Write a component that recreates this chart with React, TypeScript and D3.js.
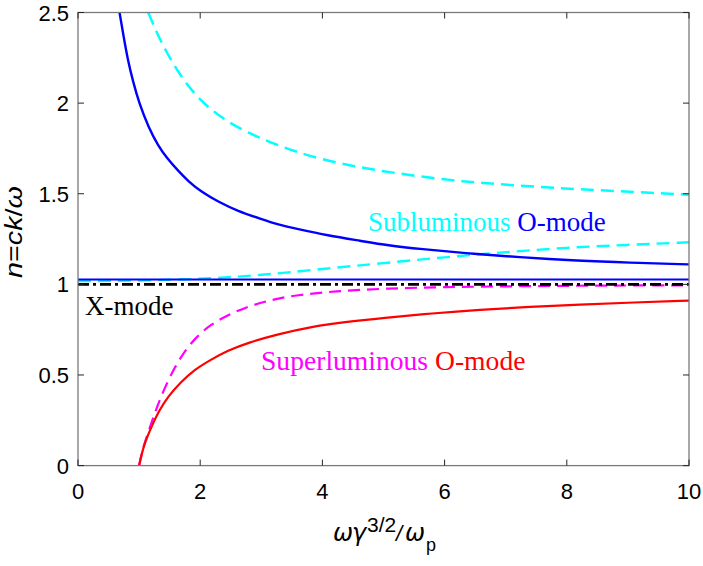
import React from "react";
import * as d3 from "d3";

// refractive index curves
const xTicks = [0, 2, 4, 6, 8, 10];
const yTicks = [0, 0.5, 1, 1.5, 2, 2.5];
const yTickLabels = ["0", "0.5", "1", "1.5", "2", "2.5"];

const subBlueX = [0.68, 0.75, 0.82, 0.9, 1.0, 1.15, 1.31, 1.47, 1.63, 1.8, 2.02, 2.3, 2.61, 3.0, 3.27, 3.6, 4.08, 4.63, 5.07, 5.6, 6.41, 7.2, 8.2, 9.0, 10];
const subBlueN = [2.5, 2.36, 2.23, 2.12, 2.0, 1.87, 1.765, 1.69, 1.63, 1.57, 1.51, 1.455, 1.405, 1.36, 1.33, 1.305, 1.27, 1.24, 1.215, 1.195, 1.17, 1.15, 1.13, 1.12, 1.11];

const subCyanX = [1.15, 1.3, 1.45, 1.66, 1.88, 2.15, 2.48, 2.8, 3.13, 3.54, 3.98, 4.47, 4.93, 5.8, 6.57, 7.4, 8.2, 9.1, 10];
const subCyanN = [2.5, 2.38, 2.28, 2.16, 2.06, 1.97, 1.89, 1.835, 1.785, 1.735, 1.69, 1.655, 1.627, 1.585, 1.56, 1.54, 1.525, 1.51, 1.495];

const lowCyanX = [0, 1, 2, 2.5, 3, 3.5, 4, 5, 6, 7, 8, 9, 10];
const lowCyanN = [1.018, 1.02, 1.03, 1.04, 1.052, 1.068, 1.085, 1.117, 1.15, 1.178, 1.203, 1.218, 1.232];

const flatBlueX = [0, 10];
const flatBlueN = [1.027, 1.027];

const xModeX = [0, 10];
const xModeN = [1, 1];

const superMagX = [1.0, 1.05, 1.1, 1.2, 1.3, 1.42, 1.58, 1.74, 1.95, 2.18, 2.45, 2.72, 3.1, 3.54, 4.2, 5.07, 6, 7, 8, 9, 10];
const superMagN = [0, 0.08, 0.135, 0.235, 0.33, 0.43, 0.54, 0.63, 0.715, 0.78, 0.83, 0.87, 0.91, 0.94, 0.962, 0.978, 0.985, 0.989, 0.992, 0.994, 0.995];

const superRedX = [1.0, 1.05, 1.1, 1.2, 1.33, 1.47, 1.68, 1.91, 2.15, 2.45, 2.8, 3.27, 3.8, 4.36, 5.0, 5.8, 6.57, 7.4, 8.2, 9.1, 10];
const superRedN = [0, 0.075, 0.13, 0.214, 0.305, 0.38, 0.46, 0.53, 0.58, 0.635, 0.68, 0.725, 0.765, 0.792, 0.815, 0.84, 0.86, 0.876, 0.889, 0.9, 0.91];

const width = 703;
const height = 566;
const left = 78, right = 689, top = 12.5, bottom = 465.6;

const App = () => {
  const x = d3.scaleLinear([0, 10], [left, right]);
  const y = d3.scaleLinear([0, 2.5], [bottom, top]);
  const line = d3
    .line<[number, number]>()
    .x((d) => x(d[0]))
    .y((d) => y(d[1]))
    .curve(d3.curveBasis);
  const pts = (xs: number[], ns: number[]) => xs.map((v, i) => [v, ns[i]] as [number, number]);

  const series = [
    { xs: lowCyanX, ns: lowCyanN, color: "#00ffff", dash: "13,7", w: 2.4 },
    { xs: subCyanX, ns: subCyanN, color: "#00ffff", dash: "13,7", w: 2.5 },
    { xs: subBlueX, ns: subBlueN, color: "#0000ff", dash: null, w: 2.4 },
    { xs: flatBlueX, ns: flatBlueN, color: "#0000ff", dash: null, w: 2 },
    { xs: superMagX, ns: superMagN, color: "#ff00ff", dash: "12,7", w: 2.2 },
    { xs: xModeX, ns: xModeN, color: "#000000", dash: "11,4,3,4", w: 2.8 },
    { xs: superRedX, ns: superRedN, color: "#ff0000", dash: null, w: 2.2 },
  ];

  const tickLen = 6;

  return (
    <svg width={width} height={height} style={{ position: "absolute", left: 0, top: 0, background: "#fff" }}>
      <defs>
        <clipPath id="plot">
          <rect x={left} y={top} width={right - left} height={bottom - top} />
        </clipPath>
      </defs>

      <g clipPath="url(#plot)" fill="none">
        {series.map((s, i) => (
          <path
            key={i}
            d={line(pts(s.xs, s.ns)) || ""}
            stroke={s.color}
            strokeWidth={s.w}
            strokeDasharray={s.dash || undefined}
          />
        ))}
      </g>

      {/* box and ticks */}
      <rect x={left} y={top} width={right - left} height={bottom - top} fill="none" stroke="#7a7a7a" strokeWidth={1.3} />
      <g stroke="#262626" strokeWidth={1}>
        {xTicks.map((t) => (
          <g key={"x" + t}>
            <line x1={x(t)} x2={x(t)} y1={bottom} y2={bottom - tickLen} />
            <line x1={x(t)} x2={x(t)} y1={top} y2={top + tickLen} />
          </g>
        ))}
        {yTicks.map((t) => (
          <g key={"y" + t}>
            <line x1={left} x2={left + tickLen} y1={y(t)} y2={y(t)} />
            <line x1={right} x2={right - tickLen} y1={y(t)} y2={y(t)} />
          </g>
        ))}
      </g>

      <g fontFamily="Liberation Sans, Arial, sans-serif" fontSize={22} fill="#000">
        {xTicks.map((t) => (
          <text key={"xl" + t} x={x(t)} y={499} textAnchor="middle">{t}</text>
        ))}
        {yTicks.map((t, i) => (
          <text key={"yl" + t} x={69} y={y(t) + 8} textAnchor="end">{yTickLabels[i]}</text>
        ))}
      </g>

      {/* axis titles */}
      <g fontFamily="Liberation Sans, Arial, sans-serif" fill="#000">
        <text y={541} fontSize={24}>
          <tspan x={333} fontFamily="DejaVu Sans" fontStyle="italic">ω</tspan>
          <tspan x={352} fontFamily="DejaVu Sans" fontStyle="italic">γ</tspan>
          <tspan x={367} y={532} fontSize={21}>3/2</tspan>
          <tspan x={396} y={541} fontSize={22} fontStyle="italic">/</tspan>
          <tspan x={405} fontFamily="DejaVu Sans" fontStyle="italic">ω</tspan>
          <tspan x={426} y={551} fontSize={18}>p</tspan>
        </text>
        <text
          transform="translate(22,232) rotate(-90)"
          textAnchor="middle"
          fontSize={24}
          textLength={92}
          lengthAdjust="spacingAndGlyphs"
        >
          <tspan fontStyle="italic">n</tspan>=<tspan fontStyle="italic">ck</tspan>/<tspan fontStyle="italic">ω</tspan>
        </text>
      </g>

      {/* annotations */}
      <g fontFamily="Liberation Serif, Times New Roman, serif" fontSize={27}>
        <text x={368} y={231}>
          <tspan fill="#00ffff">Subluminous </tspan>
          <tspan fill="#0000ff">O-mode</tspan>
        </text>
        <text x={85} y={315} fill="#000">X-mode</text>
        <text x={261} y={370} fontSize={27.6}>
          <tspan fill="#ff00ff">Superluminous </tspan>
          <tspan fill="#ff0000">O-mode</tspan>
        </text>
      </g>
    </svg>
  );
};

export default App;
